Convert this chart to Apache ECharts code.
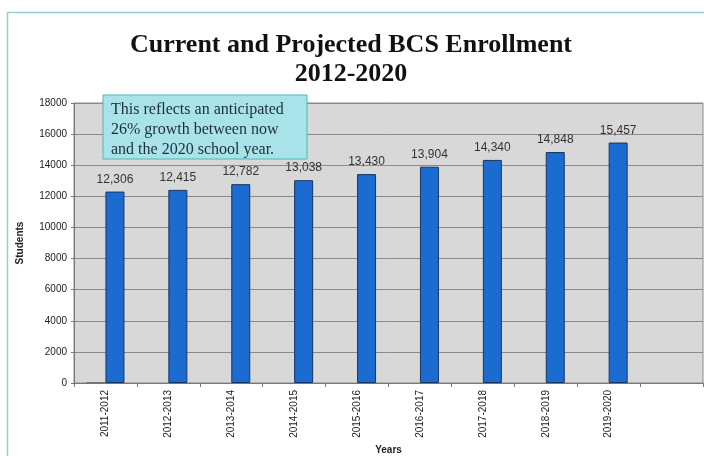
<!DOCTYPE html>
<html>
<head>
<meta charset="utf-8">
<script src="https://cdn.jsdelivr.net/npm/echarts@6/dist/echarts.min.js"></script>
<style>
html,body{margin:0;padding:0;background:#fff;}
#chart{width:704px;height:456px;}
</style>
</head>
<body>
<div id="chart"></div>
<script>
const categories = ['2011-2012','2012-2013','2013-2014','2014-2015','2015-2016','2016-2017','2017-2018','2018-2019','2019-2020',''];
const baseSeries = [30, null, null, null, null, null, null, null, null, null];
const enrollment = [12306, 12415, 12782, 13038, 13430, 13904, 14340, 14848, 15457, null];
const yTicks = {min: 0, max: 18000, interval: 2000};
const titleLines = ['Current and Projected BCS Enrollment', '2012-2020'];
const noteLines = ['This reflects an anticipated', '26% growth between now', 'and the 2020 school year.'];

const chart = echarts.init(document.getElementById('chart'), null, {renderer: 'canvas'});
const sans = 'Liberation Sans, Arial, sans-serif';
chart.setOption({
  animation: false,
  backgroundColor: '#ffffff',
  title: {
    text: titleLines.join('\n'),
    left: 346, top: 26, textAlign: 'center',
    textStyle: {fontFamily: 'Liberation Serif, Times New Roman, serif', fontWeight: 'bold', fontSize: 26, lineHeight: 29, color: '#111'}
  },
  grid: {left: 74, right: 1, top: 103, bottom: 73, outerBoundsMode: 'none', containLabel: false,
         show: true, backgroundColor: '#d8d8d8', borderColor: '#8a8a8a', borderWidth: 1},
  xAxis: {
    type: 'category', data: categories,
    name: 'Years', nameLocation: 'middle', nameGap: 60,
    nameTextStyle: {fontFamily: sans, fontWeight: 'bold', fontSize: 10, color: '#222'},
    axisLine: {lineStyle: {color: '#777', width: 1}},
    axisTick: {show: true, length: 4, lineStyle: {color: '#777'}},
    axisLabel: {rotate: 90, fontFamily: sans, fontSize: 10, color: '#222', margin: 7, interval: 0}
  },
  yAxis: {
    type: 'value', min: yTicks.min, max: yTicks.max, interval: yTicks.interval,
    name: 'Students', nameLocation: 'middle', nameGap: 49,
    nameTextStyle: {fontFamily: sans, fontWeight: 'bold', fontSize: 10, color: '#222'},
    axisLine: {show: true, lineStyle: {color: '#777'}},
    axisTick: {show: true, length: 3, lineStyle: {color: '#777'}},
    axisLabel: {fontFamily: sans, fontSize: 10, color: '#222', margin: 7, formatter: v => String(v)},
    splitLine: {show: true, lineStyle: {color: '#8a8a8a', width: 1}}
  },
  series: [
    {type: 'bar', data: baseSeries, barWidth: 19, barGap: '0%',
     itemStyle: {color: '#333', borderWidth: 0}},
    {type: 'bar', data: enrollment, barWidth: 19, barGap: '0%',
     itemStyle: {color: '#1c6bd0', borderColor: '#17365f', borderWidth: 1},
     label: {show: true, position: 'top', distance: 6, fontFamily: sans, fontSize: 12, color: '#333',
       formatter: p => p.value == null ? '' : p.value.toLocaleString('en-US')}}
  ],
  graphic: [
    {type: 'line', shape: {x1: 7, y1: 12.5, x2: 704, y2: 12.5}, style: {stroke: '#9ccfcf', lineWidth: 1.5}, z: 100},
    {type: 'line', shape: {x1: 7.5, y1: 12, x2: 7.5, y2: 456}, style: {stroke: '#9ccfcf', lineWidth: 1.5}, z: 100},
    {type: 'rect', shape: {x: 103, y: 95, width: 204, height: 64}, style: {fill: '#a8e3ea', stroke: '#52b3c0', lineWidth: 1}, z: 100},
    {type: 'text', x: 111, y: 100, z: 101,
     style: {text: noteLines.join('\n'), font: '16px Liberation Serif, serif', lineHeight: 20, fill: '#1f2d38'}}
  ]
});
</script>
</body>
</html>
